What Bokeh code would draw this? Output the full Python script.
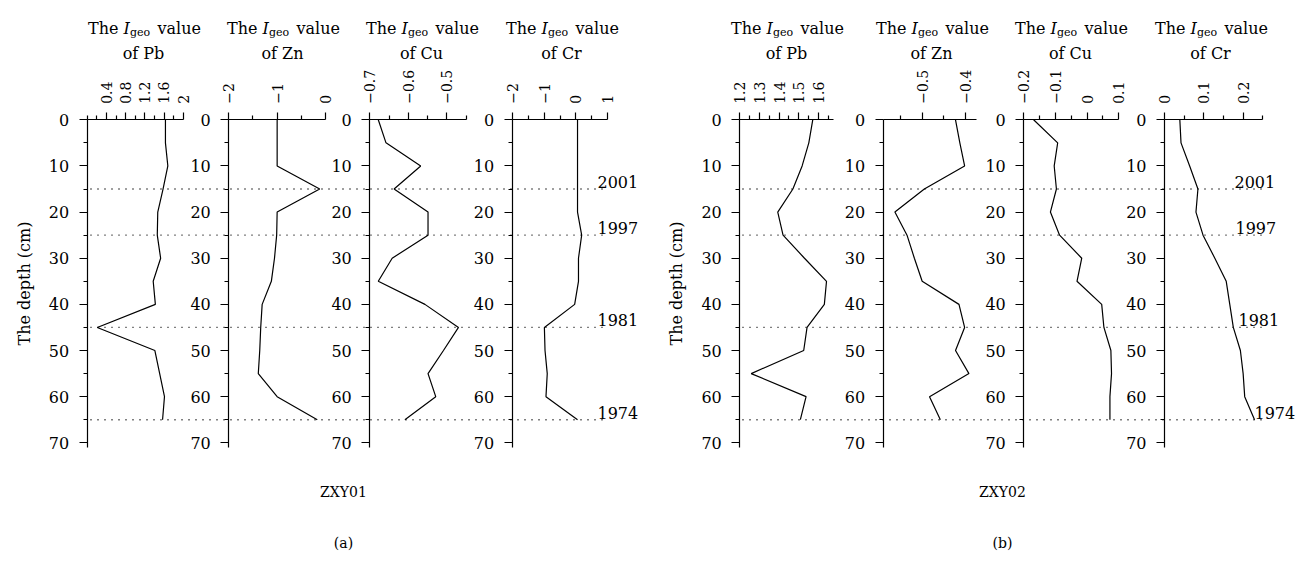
import math
from bokeh.plotting import figure
from bokeh.models import Range1d, LinearAxis, FixedTicker, CustomJSTickFormatter, ColumnDataSource
from bokeh.core.properties import value
from bokeh.embed import file_html
from bokeh.resources import INLINE

# ---------------- data ----------------
depth_cm = [0, 5, 10, 15, 20, 25, 30, 35, 40, 45, 50, 55, 60, 65]

# core ZXY01
pb_01 = [1.63, 1.63, 1.68, 1.58, 1.47, 1.46, 1.53, 1.375, 1.42, 0.21, 1.41, 1.51, 1.61, 1.57]
zn_01 = [-1.0, -1.0, -1.0, -0.12, -1.0, -1.01, -1.055, -1.12, -1.31, -1.34, -1.36, -1.39, -1.0, -0.17]
cu_01 = [-0.678, -0.658, -0.568, -0.637, -0.549, -0.549, -0.642, -0.678, -0.557, -0.470, -0.509, -0.549, -0.529, -0.609]
cr_01 = [0.05, 0.05, 0.05, 0.05, 0.05, 0.18, 0.08, 0.08, -0.04, -0.99, -0.97, -0.90, -0.94, 0.05]

# core ZXY02
pb_02 = [1.571, 1.551, 1.517, 1.470, 1.393, 1.420, 1.529, 1.641, 1.630, 1.542, 1.525, 1.258, 1.537, 1.508]
zn_02 = [-0.423, -0.413, -0.402, -0.495, -0.563, -0.535, -0.518, -0.500, -0.415, -0.402, -0.423, -0.392, -0.483, -0.458]
cu_02 = [-0.169, -0.093, -0.104, -0.097, -0.116, -0.087, -0.017, -0.032, 0.046, 0.053, 0.075, 0.077, 0.072, 0.072]
cr_02 = [0.039, 0.042, 0.064, 0.085, 0.080, 0.098, 0.128, 0.157, 0.166, 0.175, 0.193, 0.200, 0.204, 0.229]

elements = ["Pb", "Zn", "Cu", "Cr"]
cores = ["ZXY01", "ZXY02"]
panel_letters = ["(a)", "(b)"]
series = {"ZXY01": [pb_01, zn_01, cu_01, cr_01], "ZXY02": [pb_02, zn_02, cu_02, cr_02]}

# axis limits and ticks for each element panel
limits = {
    "ZXY01": [(0, 2), (-2, 0), (-0.7, -0.45), (-2, 1)],
    "ZXY02": [(1.2, 1.675), (-0.59, -0.375), (-0.2, 0.1), (0, 0.25)],
}
major_ticks = {
    "ZXY01": [[0.4, 0.8, 1.2, 1.6, 2.0], [-2, -1, 0], [-0.7, -0.6, -0.5], [-2, -1, 0, 1]],
    "ZXY02": [[1.2, 1.3, 1.4, 1.5, 1.6], [-0.5, -0.4], [-0.2, -0.1, 0, 0.1], [0, 0.1, 0.2]],
}
minor_ticks = {
    "ZXY01": [[0, 0.2, 0.6, 1.0, 1.4, 1.8], [-1.5, -0.5], [-0.65, -0.55, -0.45], [-1.5, -0.5, 0.5]],
    "ZXY02": [[1.25, 1.35, 1.45, 1.55, 1.65], [-0.55, -0.45], [-0.15, -0.05, 0.05], [0.05, 0.15, 0.25]],
}

date_depths = [15, 25, 45, 65]
date_years = ["2001", "1997", "1981", "1974"]
depth_major = [0, 10, 20, 30, 40, 50, 60, 70]
depth_minor = [5, 15, 25, 35, 45, 55, 65]

# ---------------- layout (canvas pixels) ----------------
W, H = 1300, 560
X0, X1 = 0, W
PX_PER_CM = 323.0 / 70.0
Y_ZERO = 119.3
Y_TOP_DEPTH = (0 - Y_ZERO) / PX_PER_CM
Y_BOT_DEPTH = (H - Y_ZERO) / PX_PER_CM

panel_px = {
    "ZXY01": [(86.7, 182.7), (228.3, 325.0), (369.3, 465.7), (511.7, 607.3)],
    "ZXY02": [(739.3, 832.7), (882.7, 975.8), (1023.3, 1118.3), (1164.0, 1262.3)],
}
title_x = {"ZXY01": [143, 282, 421, 561], "ZXY02": [786, 931, 1070, 1210]}
dot_extent = {"ZXY01": (90, 602), "ZXY02": (742, 1262)}
year_x = {"ZXY01": [597, 597, 597, 597], "ZXY02": [1234, 1235, 1238, 1254]}
core_x = {"ZXY01": 343, "ZXY02": 1002}

FONT = "DejaVu Serif"

p = figure(width=W, height=H, x_range=Range1d(X0, X1),
           y_range=Range1d(Y_BOT_DEPTH, Y_TOP_DEPTH),
           output_backend="svg", toolbar_location=None,
           x_axis_location=None, y_axis_location=None, min_border=0)
p.min_border_left = p.min_border_right = p.min_border_top = p.min_border_bottom = 0
p.grid.visible = False
p.outline_line_color = None
p.background_fill_color = "white"

fmt = CustomJSTickFormatter(code="var v = Math.round(tick*1000)/1000; return String(v).replace('-', '\\u2212');")

extra = {}
for core in cores:
    for k, el in enumerate(elements):
        v0, v1 = limits[core][k]
        p0, p1 = panel_px[core][k]
        s = (v1 - v0) / (p1 - p0)
        rn = f"{core}_{el}"
        extra[rn] = Range1d(v0 - (p0 - X0) * s, v1 + (X1 - p1) * s)
p.extra_x_ranges = extra


def style_axis(ax, tick_out, label_size, standoff):
    ax.major_label_text_font = FONT
    ax.major_label_text_font_size = label_size
    ax.major_label_text_color = "black"
    ax.major_label_standoff = standoff
    ax.axis_line_color = "black"
    ax.axis_line_width = 1.2
    ax.major_tick_line_color = "black"
    ax.major_tick_line_width = 1.2
    ax.minor_tick_line_color = "black"
    ax.minor_tick_line_width = 1.2
    ax.major_tick_out = tick_out
    ax.major_tick_in = 0
    ax.minor_tick_out = 4
    ax.minor_tick_in = 0


for ci, core in enumerate(cores):
    for k, el in enumerate(elements):
        v0, v1 = limits[core][k]
        p0, p1 = panel_px[core][k]
        rn = f"{core}_{el}"
        # top value axis
        ax = LinearAxis(x_range_name=rn, fixed_location=0, bounds=(v0, v1),
                        ticker=FixedTicker(ticks=major_ticks[core][k], minor_ticks=minor_ticks[core][k]),
                        formatter=fmt)
        ax.major_label_orientation = "vertical"
        style_axis(ax, 7, "14px", 9)
        p.add_layout(ax, "above")

        # depth axis
        yax = LinearAxis(fixed_location=p0, bounds=(0, 71),
                         ticker=FixedTicker(ticks=depth_major, minor_ticks=depth_minor))
        style_axis(yax, 8, "16px", 10)
        if k == 0:
            yax.axis_label = "The depth (cm)"
            yax.axis_label_text_font = FONT
            yax.axis_label_text_font_size = "16px"
            yax.axis_label_text_font_style = "normal"
            yax.axis_label_text_color = "black"
            yax.axis_label_standoff = 12
        p.add_layout(yax, "left")

        # profile line
        src = ColumnDataSource(dict(v=series[core][k], d=depth_cm))
        p.line(x="v", y="d", source=src, x_range_name=rn, line_color="black", line_width=1.2)

        # panel title
        c = title_x[core][k]
        common = dict(text_font=value(FONT), text_color="black", text_baseline="alphabetic")
        p.text(x=[c - 25], y=[0], text=["The"], y_offset=-91, text_align="right",
               text_font_size="16px", **common)
        p.text(x=[c - 20], y=[0], text=["I"], y_offset=-91, text_align="left",
               text_font_size="16px", text_font_style="italic", **common)
        p.text(x=[c - 13.5], y=[0], text=["geo"], y_offset=-87, text_align="left",
               text_font_size="11px", **common)
        p.text(x=[c + 14], y=[0], text=["value"], y_offset=-91, text_align="left",
               text_font_size="16px", **common)
        p.text(x=[c], y=[0], text=[f"of {el}"], y_offset=-66, text_align="center",
               text_font_size="16px", **common)

    # dotted dating horizons
    xa, xb = dot_extent[core]
    for dd in date_depths:
        p.line(x=[xa, xb], y=[dd, dd], line_color="black", line_width=1.3, line_dash="1 6")
    p.text(x=year_x[core], y=date_depths, text=date_years, y_offset=-7,
           text_font=value(FONT), text_font_size="16px", text_color="black",
           text_align="left", text_baseline="alphabetic")

    # core name and panel letter
    p.text(x=[core_x[core]], y=[70], text=[core], y_offset=49,
           text_font=value(FONT), text_font_size="14px", text_color="black",
           text_align="center", text_baseline="middle")
    p.text(x=[core_x[core]], y=[70], text=[panel_letters[ci]], y_offset=100,
           text_font=value(FONT), text_font_size="14px", text_color="black",
           text_align="center", text_baseline="middle")

open("out.html", "w", encoding="utf-8").write(file_html(p, INLINE))
